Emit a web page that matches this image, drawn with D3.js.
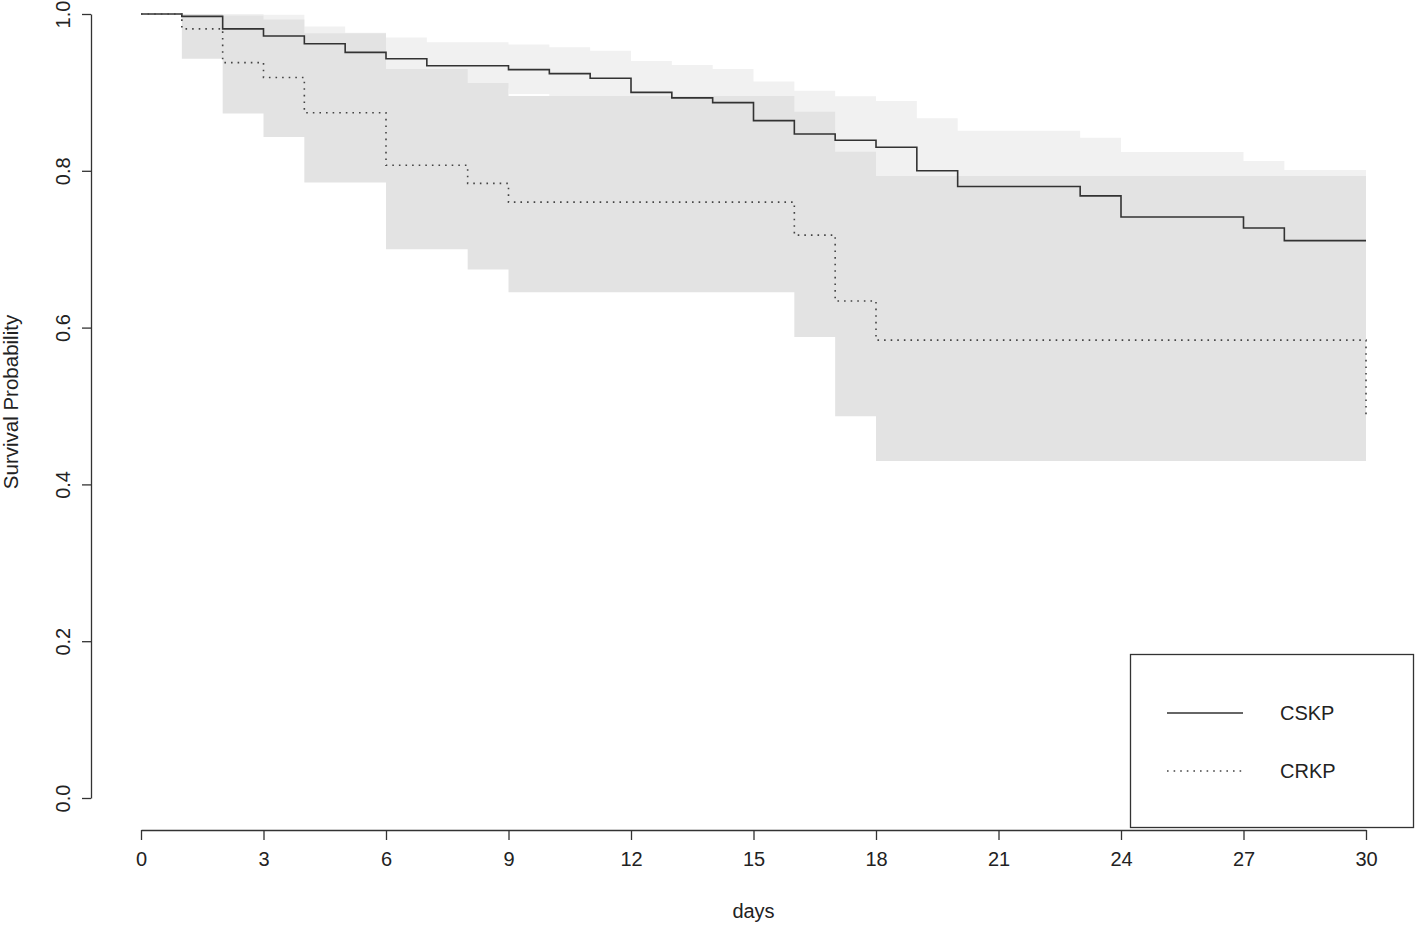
<!DOCTYPE html>
<html>
<head>
<meta charset="utf-8">
<script src="https://cdn.jsdelivr.net/npm/d3@7"></script>
<style>
  html, body { margin: 0; padding: 0; background: #fff; }
  text { font-family: "Liberation Sans", Arial, sans-serif; fill: #222; }
</style>
</head>
<body>
<svg id="chart" width="1418" height="928"></svg>
<script>
// ---- data ----
const xTicks = [0, 3, 6, 9, 12, 15, 18, 21, 24, 27, 30];
const yTicks = [0, 0.2, 0.4, 0.6, 0.8, 1.0];
const seriesNames = ["CSKP", "CRKP"];

// CSKP: step times, survival, and 95% CI
const cskpTime  = [0, 1, 2, 3, 4, 5, 6, 7, 9, 10, 11, 12, 13, 14, 15, 16, 17, 18, 19, 20, 23, 24, 27, 28, 30];
const cskpSurv  = [1, 0.997, 0.981, 0.972, 0.962, 0.951, 0.943, 0.934, 0.929, 0.924, 0.918, 0.900, 0.893, 0.887, 0.864, 0.847, 0.839, 0.830, 0.800, 0.780, 0.768, 0.741, 0.727, 0.711, 0.711];
const cskpUpper = [1, 1.0, 1.0, 0.999, 0.984, 0.976, 0.970, 0.964, 0.961, 0.9575, 0.953, 0.940, 0.935, 0.930, 0.914, 0.902, 0.895, 0.889, 0.867, 0.851, 0.842, 0.824, 0.8125, 0.801, 0.801];
const cskpLower = [1, 0.990, 0.965, 0.955, 0.940, 0.925, 0.915, 0.905, 0.898, 0.891, 0.884, 0.862, 0.853, 0.846, 0.818, 0.797, 0.787, 0.776, 0.739, 0.715, 0.700, 0.670, 0.653, 0.635, 0.635];

// CRKP: step times, survival, and 95% CI
const crkpTime  = [0, 1, 2, 3, 4, 6, 8, 9, 16, 17, 18, 30];
const crkpSurv  = [1, 0.981, 0.938, 0.919, 0.874, 0.807, 0.784, 0.760, 0.718, 0.634, 0.584, 0.489];
const crkpUpper = [1, 1.0, 0.998, 0.993, 0.9753, 0.930, 0.912, 0.8954, 0.8754, 0.8244, 0.7934, 0.7934];
const crkpLower = [1, 0.943, 0.873, 0.843, 0.785, 0.700, 0.674, 0.645, 0.588, 0.487, 0.430, 0.430];

// ---- build ----
const FS = 20;
const svg = d3.select("#chart");
const x = d3.scaleLinear().domain([0, 30]).range([141, 1366]);
const y = d3.scaleLinear().domain([0, 1]).range([798, 14]);

const zip = (t, s, u, l) => t.map((d, i) => ({ t: d, s: s[i], u: u[i], l: l[i] }));
const cskp = zip(cskpTime, cskpSurv, cskpUpper, cskpLower);
const crkp = zip(crkpTime, crkpSurv, crkpUpper, crkpLower);

const band = d3.area().curve(d3.curveStepAfter)
  .x(d => x(d.t)).y0(d => y(d.l)).y1(d => y(d.u));
const line = d3.line().curve(d3.curveStepAfter)
  .x(d => x(d.t)).y(d => y(d.s));

// confidence bands
svg.append("path").datum(cskp).attr("d", band).attr("fill", "#f1f1f1").attr("stroke", "none");
svg.append("path").datum(crkp).attr("d", band).attr("fill", "#e3e3e3").attr("stroke", "none");

// survival curves
svg.append("path").datum(cskp).attr("d", line)
  .attr("fill", "none").attr("stroke", "#333").attr("stroke-width", 1.6);
svg.append("path").datum(crkp).attr("d", line)
  .attr("fill", "none").attr("stroke", "#444").attr("stroke-width", 1.6)
  .attr("stroke-dasharray", "1.6,5");

// x axis
const xAxis = svg.append("g").attr("transform", "translate(0,830)")
  .call(d3.axisBottom(x).tickValues(xTicks).tickSize(10).tickSizeOuter(0).tickPadding(12).tickFormat(d3.format("d")));
xAxis.selectAll("path, line").attr("stroke", "#333").attr("stroke-width", 1.3);
xAxis.selectAll("text").attr("font-size", FS).attr("fill", "#222")
  .attr("font-family", "Liberation Sans, Arial, sans-serif");

// y axis
const yAxis = svg.append("g").attr("transform", "translate(91,0)")
  .call(d3.axisLeft(y).tickValues(yTicks).tickSize(9).tickSizeOuter(0).tickFormat(d3.format(".1f")));
yAxis.selectAll("path, line").attr("stroke", "#333").attr("stroke-width", 1.3);
yAxis.selectAll("text")
  .attr("font-size", FS).attr("fill", "#222")
  .attr("font-family", "Liberation Sans, Arial, sans-serif")
  .attr("transform", "rotate(-90)")
  .attr("x", 0).attr("y", -21).attr("dy", 0)
  .attr("text-anchor", "middle");

// axis titles
svg.append("text").attr("x", 753.5).attr("y", 918).attr("text-anchor", "middle")
  .attr("font-size", FS).text("days");
svg.append("text").attr("transform", "translate(18,402) rotate(-90)")
  .attr("text-anchor", "middle").attr("font-size", 20.5).text("Survival Probability");

// legend
const lg = svg.append("g");
lg.append("rect").attr("x", 1130.5).attr("y", 654.5).attr("width", 283).attr("height", 173)
  .attr("fill", "#fff").attr("stroke", "#333").attr("stroke-width", 1.3);
const legY = [713, 771];
const legDash = [null, "1.6,5"];
seriesNames.forEach((name, i) => {
  lg.append("line").attr("x1", 1167).attr("x2", 1243).attr("y1", legY[i]).attr("y2", legY[i])
    .attr("stroke", i === 0 ? "#333" : "#444").attr("stroke-width", 1.6)
    .attr("stroke-dasharray", legDash[i]);
  lg.append("text").attr("x", 1280).attr("y", legY[i] + 7).attr("font-size", FS).text(name);
});
</script>
</body>
</html>
